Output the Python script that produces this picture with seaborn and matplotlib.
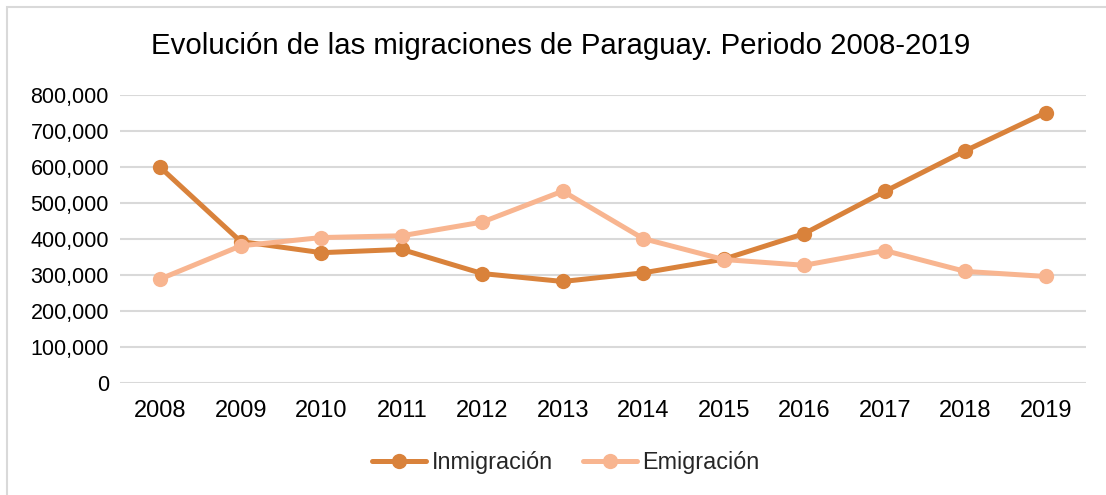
import matplotlib
matplotlib.use("Agg")
import matplotlib.pyplot as plt
import matplotlib.ticker as mticker
from matplotlib.patches import Rectangle
import seaborn as sns
import pandas as pd

years = ["2008", "2009", "2010", "2011", "2012", "2013", "2014", "2015", "2016", "2017", "2018", "2019"]
inmigracion = [599000, 393000, 362000, 371000, 304000, 282000, 306000, 344000, 415000, 532000, 645000, 751000]
emigracion = [289000, 381000, 404000, 409000, 447000, 533000, 401000, 343000, 327000, 368000, 310000, 296000]
series_names = ["Inmigración", "Emigración"]
colors = ["#D9823B", "#F8B590"]
title = "Evolución de las migraciones de Paraguay. Periodo 2008-2019"
yticks = [0, 100000, 200000, 300000, 400000, 500000, 600000, 700000, 800000]

df = pd.DataFrame({
    "Año": years * 2,
    "Valor": inmigracion + emigracion,
    "Serie": [series_names[0]] * len(years) + [series_names[1]] * len(years),
})

sns.set_style("white")
plt.rcParams["font.family"] = ["Liberation Sans", "DejaVu Sans"]

W, H = 1106, 495
fig = plt.figure(figsize=(W / 100, H / 100), dpi=100)
ax = fig.add_axes([120 / W, 1 - 383 / H, (1086 - 120) / W, (383 - 95) / H])

sns.lineplot(data=df, x="Año", y="Valor", hue="Serie", palette=colors,
             marker="o", markersize=11, markeredgewidth=0, linewidth=3.6,
             ax=ax, sort=False)

ax.set_xlim(-0.5, len(years) - 0.5)
ax.set_ylim(0, 800000)
ax.set_yticks(yticks)
ax.yaxis.set_major_formatter(mticker.FuncFormatter(lambda v, p: f"{int(v):,}"))
ax.grid(axis="y", color="#D9D9D9", linewidth=1.5)
ax.set_axisbelow(True)
for s in ax.spines.values():
    s.set_visible(False)
ax.tick_params(axis="both", length=0, labelcolor="#000000")
ax.tick_params(axis="y", labelsize=15.5, pad=8)
ax.tick_params(axis="x", labelsize=17, pad=12)
ax.set_xlabel("")
ax.set_ylabel("")

fig.text(561 / W, 1 - 46 / H, title, ha="center", va="center", fontsize=21.2, color="#000000")

handles, labels = ax.get_legend_handles_labels()
ax.legend(handles, labels, loc="center", bbox_to_anchor=(566 / W, 1 - 463 / H),
          bbox_transform=fig.transFigure, ncol=2, frameon=False, fontsize=16.8,
          handlelength=2.3, handletextpad=0.25, columnspacing=1.3)

fig.patches.append(Rectangle((7 / W, -0.1), 1.2, 1 - 7 / H + 0.1, transform=fig.transFigure,
                             fill=False, edgecolor="#D9D9D9", linewidth=1.5))

fig.savefig("out.png", dpi=100)
